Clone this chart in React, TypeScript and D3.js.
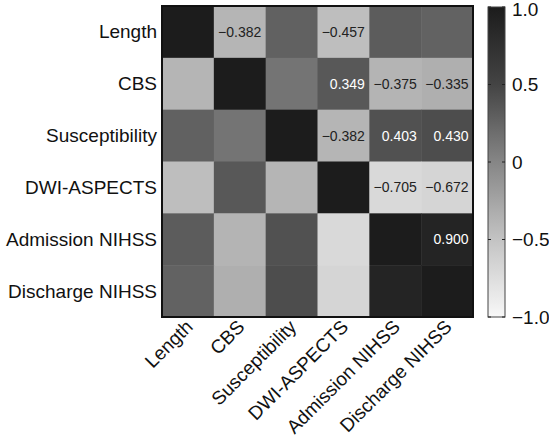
import React from "react";
import * as d3 from "d3";

const variables = ["Length", "CBS", "Susceptibility", "DWI-ASPECTS", "Admission NIHSS", "Discharge NIHSS"];

const rowLength = [1, -0.382, 0.28, -0.457, 0.32, 0.27];
const rowCBS = [-0.382, 1, 0.14, 0.349, -0.375, -0.335];
const rowSusceptibility = [0.28, 0.14, 1, -0.382, 0.403, 0.43];
const rowDWI = [-0.457, 0.349, -0.382, 1, -0.705, -0.672];
const rowAdmission = [0.32, -0.375, 0.403, -0.705, 1, 0.9];
const rowDischarge = [0.27, -0.335, 0.43, -0.672, 0.9, 1];

// cells whose coefficient is printed (row index, column index)
const labelledCells = [
  [0, 1], [0, 3],
  [1, 3], [1, 4], [1, 5],
  [2, 3], [2, 4], [2, 5],
  [3, 4], [3, 5],
  [4, 5],
];

const colorbarTicks = [1, 0.5, 0, -0.5, -1];
const colorbarTickLabels = ["1.0", "0.5", "0", "\u22120.5", "\u22121.0"];

const matrix = [rowLength, rowCBS, rowSusceptibility, rowDWI, rowAdmission, rowDischarge];

const FONT = "'Liberation Sans', Arial, Helvetica, sans-serif";

export default function App() {
  const W = 549, H = 442;
  const gx0 = 162, gx1 = 473, gy0 = 6, gy1 = 317;
  const x = d3.scaleBand<number>().domain(d3.range(variables.length)).range([gx0, gx1]);
  const y = d3.scaleBand<number>().domain(d3.range(variables.length)).range([gy0, gy1]);
  const grayLevel = d3.scaleLinear<number>().domain([-1, -0.5, 0, 0.5, 1]).range([248, 195, 134, 68, 28]);
  const color = (v: number) => d3.rgb(grayLevel(v), grayLevel(v), grayLevel(v)).toString();

  const cbx0 = 488, cbx1 = 505, cby0 = 7, cby1 = 317;
  const cbScale = d3.scaleLinear().domain([-1, 1]).range([cby1, cby0]);
  const gradStops = d3.range(0, 21).map((i) => -1 + i * 0.1);

  const fmt = (v: number) => (v < 0 ? "\u2212" : "") + Math.abs(v).toFixed(3);

  return (
    <svg width={W} height={H} style={{ position: "absolute", left: 0, top: 0 }} fontFamily={FONT}>
      <defs>
        <linearGradient id="cb" x1="0" y1="1" x2="0" y2="0">
          {gradStops.map((v, i) => (
            <stop key={i} offset={(v + 1) / 2} stopColor={color(v)} />
          ))}
        </linearGradient>
      </defs>
      <rect width={W} height={H} fill="#fff" />
      {matrix.map((row, r) =>
        row.map((v, c) => (
          <rect key={`${r}-${c}`} x={x(c)} y={y(r)} width={x.bandwidth() + 0.5} height={y.bandwidth() + 0.5} fill={color(v)} />
        ))
      )}
      {labelledCells.map(([r, c]) => {
        const v = matrix[r][c];
        const cx = (x(c) as number) + x.bandwidth() / 2;
        const cy = (y(r) as number) + y.bandwidth() / 2;
        return (
          <text key={`t${r}-${c}`} x={cx + 21.5} y={cy} textAnchor="end" dominantBaseline="central" fontSize={14}
            fill={v > 0.3 ? "#fff" : "#222"}>
            {fmt(v)}
          </text>
        );
      })}
      <rect x={gx0} y={gy0} width={gx1 - gx0} height={gy1 - gy0} fill="none" stroke="#111" strokeWidth={2} />
      {variables.map((name, i) => (
        <text key={`y${i}`} x={gx0 - 5} y={(y(i) as number) + y.bandwidth() / 2} textAnchor="end"
          dominantBaseline="central" fontSize={19} fill="#111">
          {name}
        </text>
      ))}
      {variables.map((name, i) => {
        const cx = (x(i) as number) + x.bandwidth() / 2;
        return (
          <text key={`x${i}`} transform={`translate(${cx + 6},${gy1 + 11}) rotate(-45)`} textAnchor="end" fontSize={19} fill="#111">
            {name}
          </text>
        );
      })}
      <rect x={cbx0} y={cby0} width={cbx1 - cbx0} height={cby1 - cby0} fill="url(#cb)" stroke="#444" strokeWidth={1} />
      {colorbarTicks.map((t, i) => (
        <g key={`cb${i}`}>
          <line x1={cbx0} x2={cbx0 + 3} y1={cbScale(t)} y2={cbScale(t)} stroke="#222" />
          <line x1={cbx1 - 3} x2={cbx1} y1={cbScale(t)} y2={cbScale(t)} stroke="#222" />
          <text x={cbx1 + 7} y={Math.max(cbScale(t), 9)} dominantBaseline="central" fontSize={19} fill="#111">
            {colorbarTickLabels[i]}
          </text>
        </g>
      ))}
    </svg>
  );
}
